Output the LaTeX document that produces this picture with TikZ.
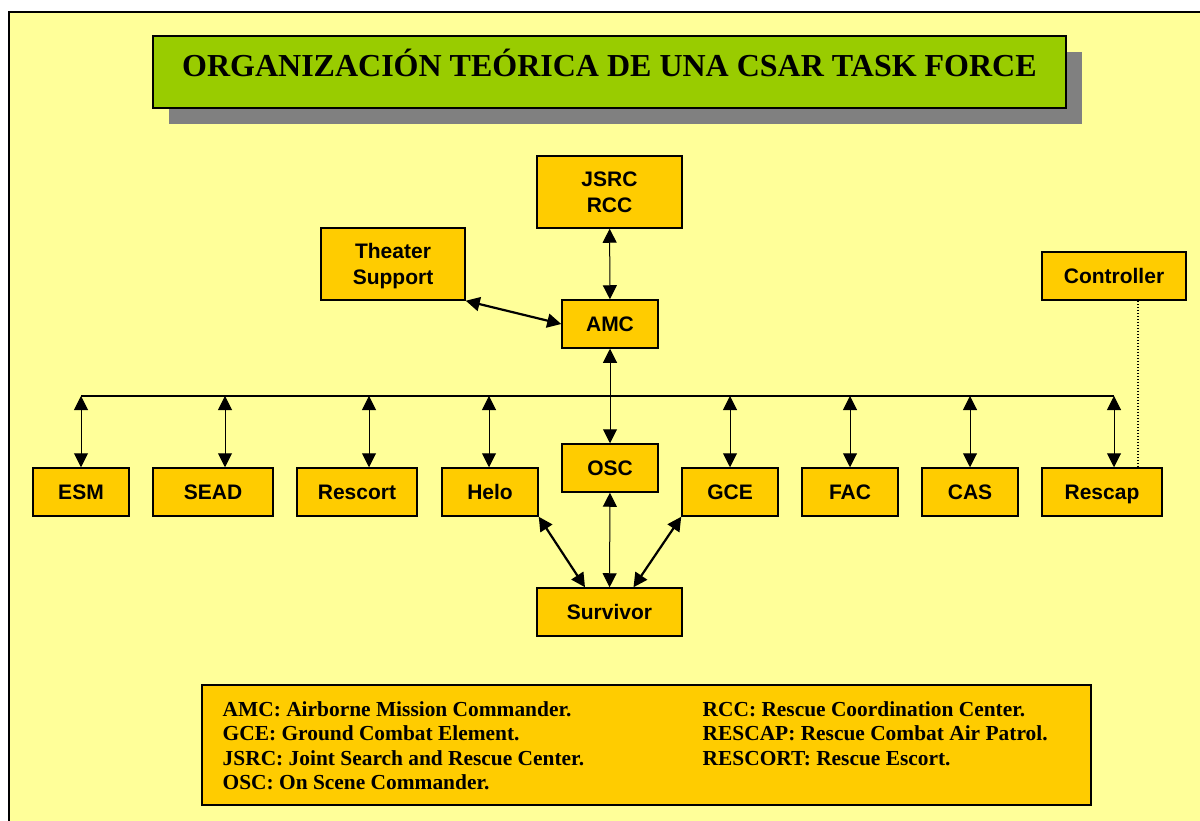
\documentclass[tikz,border=0pt]{standalone}
\usepackage{fontspec}
\setmainfont{Liberation Serif}
\setsansfont{Liberation Sans}
\usepackage{xcolor}
\usepackage{tikz}
\definecolor{paper}{HTML}{FFFF99}
\definecolor{boxgold}{HTML}{FFCC00}
\definecolor{titlegreen}{HTML}{99CC00}
\definecolor{shadowgray}{HTML}{808080}
\usetikzlibrary{arrows.meta,calc,shadows}
\tikzset{>={Triangle[length=14pt,width=14pt]},
    post/.style={draw, fill=boxgold, line width=1.5pt, inner sep=0pt,
        font=\fontsize{21}{25.5}\selectfont\sffamily\bfseries,
        minimum width=96, minimum height=48, text height=15, text depth=0},
    twoline/.style={align=center, minimum height=72, text height=40.5, text depth=0},
    link/.style={<->, line width=1pt},
    heavylink/.style={<->, line width=2.2pt}}

\begin{document}
\begin{tikzpicture}[x=1pt, y=-1pt]
    \useasboundingbox (0,0) rectangle (1200,821);
    \fill[paper] (9,12) rectangle (1200,821);
    \draw[line width=2pt] (9,821) -- (9,12) -- (1200,12);
    \node[draw, fill=titlegreen, line width=1.5pt, minimum width=913, minimum height=72,
        font=\fontsize{32}{38}\selectfont\bfseries, text height=22, text depth=12,
        drop shadow={shadow xshift=16pt, shadow yshift=-16pt, fill=shadowgray, opacity=1}]
        (title) at (609.5,72) {ORGANIZACIÓN TEÓRICA DE UNA CSAR TASK FORCE};
    \node[post, twoline, minimum width=145] (jsrc) at (609.5,192) {JSRC\\RCC};
    \node[post, twoline, minimum width=144] (theater) at (393,264) {Theater\\Support};
    \node[post] (amc) at (610,324) {AMC};
    \node[post, minimum width=144] (controller) at (1114,276) {Controller};
    \node[post] (osc) at (610,468) {OSC};
    \node[post] (esm) at (81,492) {ESM};
    \node[post, minimum width=120] (sead) at (213,492) {SEAD};
    \node[post, minimum width=120] (rescort) at (357,492) {Rescort};
    \node[post] (helo) at (490,492) {Helo};
    \node[post] (gce) at (730,492) {GCE};
    \node[post] (fac) at (850,492) {FAC};
    \node[post] (cas) at (970,492) {CAS};
    \node[post, minimum width=120] (rescap) at (1102,492) {Rescap};
    \node[post, minimum width=145] (survivor) at (609.5,612) {Survivor};
    \draw[link] (jsrc) -- (amc);
    \draw[heavylink] (theater.south east) -- (amc.west);
    \draw[link] (amc) -- (osc);
    \coordinate (busleft) at (81,396);
    \coordinate (busright) at (1114,396);
    \draw[line width=1.5pt] (busleft) -- (busright);
    \foreach \unit/\x in {esm/81, sead/225, rescort/369, helo/489, gce/730, fac/850, cas/970, rescap/1114} {
      \coordinate (top-\unit) at (\x,396);
      \draw[link] (top-\unit) -- (top-\unit |- \unit.north);
    }
    \coordinate (ctl) at ($(controller.south)+(24,0)$);
    \draw[line width=1.5pt, dash pattern=on 1.5pt off 1.5pt] (ctl) -- (ctl |- rescap.north);
    \draw[heavylink] (helo.south east) -- ($(survivor.north)+(-24.5,0)$);
    \draw[link] (osc) -- (survivor);
    \draw[heavylink] (gce.south west) -- ($(survivor.north)+(24,0)$);
    \node[draw, fill=boxgold, line width=1.5pt, minimum width=889, minimum height=120,
        anchor=north west] (legend) at (201,684) {};
    \node[anchor=north west, inner sep=0pt, font=\fontsize{21.4}{24.5}\selectfont\bfseries]
        (glossary) at ($(legend.north west)+(21.5,15)$) {%
        \begin{tabular}{@{}p{480pt}@{}l@{}}
        AMC: Airborne Mission Commander. & RCC: Rescue Coordination Center.\\
        GCE: Ground Combat Element. & RESCAP: Rescue Combat Air Patrol.\\
        JSRC: Joint Search and Rescue Center. & RESCORT: Rescue Escort.\\
        OSC: On Scene Commander. &
        \end{tabular}};
\end{tikzpicture}
\end{document}
